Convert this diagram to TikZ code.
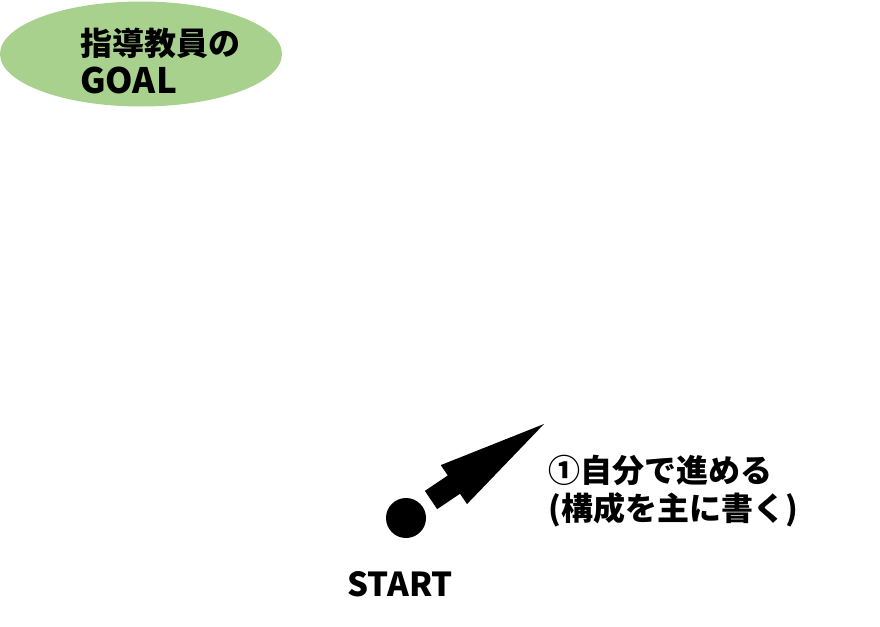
\documentclass[tikz,border=0pt]{standalone}
\usepackage{fontspec}
\setmainfont{Noto Sans CJK JP}
\usetikzlibrary{calc,shapes.geometric}
\definecolor{goalgreen}{HTML}{A9D18E}
\tikzset{
  bigtext/.style={font=\bfseries\fontsize{32}{38}\selectfont, align=left, inner sep=0pt},
}
\begin{document}
\begin{tikzpicture}[x=1pt,y=-1pt]
    \useasboundingbox (0,0) rectangle (880,626);
    % goal of the supervisor
    \node[ellipse, fill=goalgreen, minimum width=282pt, minimum height=105pt] (goal) at (141,54) {};
    \node[bigtext, anchor=west] (goaltext) at (80,61) {指導教員の\\{\fontsize{35}{38}\selectfont GOAL}};
    % start point
    \node[circle, fill=black, minimum size=40pt, inner sep=0pt] (dot) at (406,518) {};
    \node[font=\bfseries\fontsize{33}{38}\selectfont, inner sep=0pt] (start) at (400,584) {START};
    % block arrow
    \coordinate (tail) at (431,500);
    \coordinate (tip) at (544,424);
    \coordinate (base) at ($(tail)!27.6pt!(tip)$);
    \fill[black] ($(tail)!11pt!90:(tip)$) -- ($(base)!11pt!90:(tip)$)
        -- ($(base)!23.5pt!90:(tip)$) -- (tip)
        -- ($(base)!23.5pt!-90:(tip)$) -- ($(base)!11pt!-90:(tip)$)
        -- ($(tail)!11pt!-90:(tip)$) -- cycle;
    \node[bigtext, anchor=west] (step) at (548,491) {①自分で進める\\(構成を主に書く)};
\end{tikzpicture}
\end{document}
